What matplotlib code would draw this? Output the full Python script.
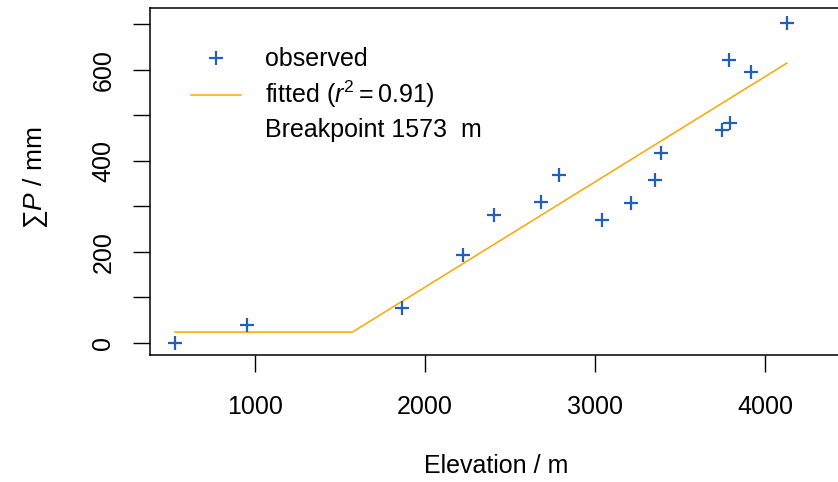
import matplotlib.pyplot as plt
from matplotlib.lines import Line2D

plt.rcParams['font.family'] = ['Liberation Sans', 'DejaVu Sans']
plt.rcParams['mathtext.fontset'] = 'custom'
plt.rcParams['mathtext.rm'] = 'Liberation Sans'
plt.rcParams['mathtext.it'] = 'Liberation Sans:italic'

elev = [529, 953, 1865, 2224, 2406, 2682, 2788, 3041, 3212, 3353, 3388,
        3747, 3794, 3788, 3918, 4129]
precip = [0, 40, 77, 193, 281, 310, 369, 270, 308, 358, 418,
          468, 484, 622, 596, 703]

# fitted segmented regression (flat, then linear after the breakpoint)
fit_x = [529, 1573, 4129]
fit_y = [24, 24, 615]
r2 = 0.91
breakpoint = 1573

blue = '#1f5fbf'
orange = '#ffa500'

fig = plt.figure(figsize=(8.38, 4.82), dpi=100)
ax = fig.add_axes([150 / 838, 1 - 355 / 482, 692 / 838, 347 / 482])

ax.plot(fit_x, fit_y, color=orange, lw=1.1)
ax.plot(elev, precip, '+', color=blue, ms=10, mew=1.6)

ax.set_xlim(382, 4453)
ax.set_ylim(-26.4, 736)
ax.set_xticks([1000, 2000, 3000, 4000])
ax.set_yticks([0, 100, 200, 300, 400, 500, 600, 700])
ax.set_yticklabels(['0', '', '200', '', '400', '', '600', ''],
                   rotation=90, va='center')
ax.tick_params(axis='both', length=12, width=1, labelsize=18)
ax.tick_params(axis='x', pad=17)
ax.tick_params(axis='y', pad=13)
for s in ax.spines.values():
    s.set_linewidth(1.1)

ax.set_xlabel('Elevation / m', fontsize=18, va='center')
ax.xaxis.set_label_coords(0.5, -0.32)
ax.set_ylabel(r'$\sum P$ / mm', fontsize=19, va='center')
ax.yaxis.set_label_coords(-0.166, 0.51)

handles = [Line2D([], [], ls='none', marker='+', color=blue, ms=10, mew=1.6),
           Line2D([], [], color=orange, lw=1.1),
           Line2D([], [], ls='none')]
labels = ['observed', r'fitted ($r^2=0.91$)'.replace('0.91', f'{r2:.2f}'),
          f'Breakpoint {breakpoint}  m']
ax.legend(handles, labels, loc='upper left', bbox_to_anchor=(0.045, 0.915),
          frameon=False, fontsize=18, handlelength=2.0, handletextpad=0.95,
          labelspacing=0.3, borderaxespad=0)

fig.savefig('out.png', dpi=100)
